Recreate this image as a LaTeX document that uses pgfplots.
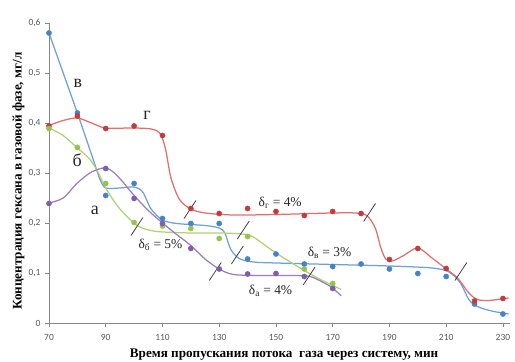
\documentclass[border=0pt]{standalone}
\usepackage{pgfplots}
\pgfplotsset{compat=1.18}
\usepackage{fontspec}
\setmainfont{Liberation Serif}
\newfontfamily\carlito{Carlito}
\definecolor{cblue}{RGB}{70,130,200}
\definecolor{cbluel}{RGB}{110,160,220}
\definecolor{cred}{RGB}{195,60,60}
\definecolor{credl}{RGB}{225,110,110}
\definecolor{cgreen}{RGB}{150,195,80}
\definecolor{cgreenl}{RGB}{175,210,115}
\definecolor{cpurp}{RGB}{128,95,170}
\definecolor{cpurpl}{RGB}{155,125,195}
\definecolor{axgray}{RGB}{134,134,134}
\definecolor{tickgray}{RGB}{89,89,89}
\begin{document}
\begin{tikzpicture}
\begin{axis}[
  name=ax,
  scale only axis,
  width=461bp, height=300bp,
  xmin=70, xmax=232.5, ymin=0, ymax=0.6,
  clip=false,
  axis x line*=bottom, axis y line*=left,
  axis line style={axgray, line width=0.8bp},
  xtick={70,90,...,230},
  ytick={0,0.1,0.2,0.3,0.4,0.5,0.6},
  major tick length=4bp,
  tick style={axgray, line width=0.8bp},
  tick align=outside,
  /pgf/number format/assume math mode=true,
  /pgf/number format/use comma,
  /pgf/number format/fixed,
  /pgf/number format/precision=1,
  ticklabel style={font=\carlito\fontsize{9.5}{11}\selectfont, text=tickgray},
  xticklabel style={yshift=-4bp},
  yticklabel style={xshift=-1bp},
  xlabel={Время пропускания потока\ \ газа через систему, мин},
  ylabel={Концентрация гексана в газовой фазе, мг/л},
  label style={font=\bfseries\fontsize{13.2}{15}\selectfont},
  x label style={at={(axis description cs:0.51,-0.107)}, anchor=center},
  y label style={at={(axis description cs:-0.066,0.473)}, anchor=center},
]
% smoothed trend curves
\addplot[cbluel, line width=1.25bp, smooth, tension=0.5] coordinates {
(70,0.58)(80,0.42)(86,0.32)(88,0.287)(90,0.27)(95,0.27)(100,0.272)(103,0.262)(106,0.228)(110,0.206)(115,0.199)(125,0.195)(130,0.19)(132,0.18)(134,0.148)(137,0.129)(142,0.122)(150,0.12)(170,0.117)(190,0.114)(205,0.11)(211,0.102)(215,0.08)(218,0.047)(221,0.033)(226,0.024)(232,0.018)};
\addplot[credl, line width=1.25bp, smooth, tension=0.5] coordinates {
(70,0.395)(75,0.405)(80,0.41)(85,0.4)(90,0.39)(100,0.39)(106,0.388)(109,0.38)(111,0.35)(113,0.29)(116,0.247)(120,0.228)(125,0.22)(135,0.216)(150,0.217)(170,0.22)(178,0.22)(182,0.215)(185,0.19)(187,0.15)(188.7,0.128)(191,0.124)(195,0.135)(200,0.15)(205,0.13)(210,0.108)(214,0.09)(218,0.06)(221,0.047)(225,0.045)(232,0.05)};
\addplot[cgreenl, line width=1.25bp, smooth, tension=0.5] coordinates {
(70,0.39)(75,0.375)(80,0.35)(84,0.33)(87,0.305)(90,0.27)(94,0.235)(98,0.21)(102,0.192)(108,0.183)(120,0.18)(130,0.18)(138,0.178)(142,0.172)(150,0.14)(160,0.105)(166,0.086)(173,0.067)};
\addplot[cpurpl, line width=1.25bp, smooth, tension=0.5] coordinates {
(70,0.24)(75,0.25)(80,0.28)(85,0.302)(90,0.31)(94,0.295)(100,0.255)(105,0.225)(110,0.2)(115,0.177)(120,0.155)(125,0.128)(130,0.108)(135,0.097)(145,0.095)(155,0.095)(162,0.093)(167,0.08)(170,0.07)(173,0.054)};
% data points
\addplot[only marks, mark=*, mark size=2.6bp, cblue] coordinates {
(70,0.58)(80,0.42)(90,0.255)(100,0.279)(110,0.209)(120,0.199)(130,0.199)(140,0.128)(150,0.138)(160,0.118)(170,0.113)(180,0.118)(190,0.108)(200,0.099)(210,0.093)(220,0.038)(230,0.018)};
\addplot[only marks, mark=*, mark size=2.6bp, cred] coordinates {
(70,0.394)(80,0.414)(90,0.389)(100,0.394)(110,0.375)(120,0.229)(130,0.219)(140,0.229)(150,0.223)(160,0.215)(170,0.223)(180,0.219)(190,0.127)(200,0.149)(210,0.109)(220,0.044)(230,0.049)};
\addplot[only marks, mark=*, mark size=2.6bp, cgreen] coordinates {
(70,0.389)(80,0.351)(90,0.279)(100,0.201)(110,0.194)(120,0.189)(130,0.169)(140,0.173)(160,0.108)(170,0.079)};
\addplot[only marks, mark=*, mark size=2.6bp, cpurp] coordinates {
(70,0.239)(90,0.309)(100,0.249)(110,0.199)(120,0.149)(130,0.108)(140,0.098)(150,0.099)(160,0.093)(170,0.069)};
% slash marks
\addplot[black!75, line width=0.8bp] coordinates {(98.9,0.175)(103.1,0.211)};
\addplot[black!75, line width=0.8bp] coordinates {(117.6,0.209)(121.8,0.245)};
\addplot[black!75, line width=0.8bp] coordinates {(136.4,0.168)(140.6,0.204)};
\addplot[black!75, line width=0.8bp] coordinates {(134.3,0.118)(138.5,0.154)};
\addplot[black!75, line width=0.8bp] coordinates {(126.5,0.085)(130.7,0.121)};
\addplot[black!75, line width=0.8bp] coordinates {(180.9,0.203)(185.1,0.239)};
\addplot[black!75, line width=0.8bp] coordinates {(159.6,0.076)(163.8,0.112)};
\addplot[black!75, line width=0.8bp] coordinates {(213.1,0.085)(217.3,0.121)};
% curve letters
\node[font=\fontsize{18}{20}\selectfont, text=black!85] at (axis cs:80.2,0.48) {в};
\node[font=\fontsize{18}{20}\selectfont, text=black!85] at (axis cs:104.6,0.415) {г};
\node[font=\fontsize{18}{20}\selectfont, text=black!85] at (axis cs:79.9,0.326) {б};
\node[font=\fontsize{18}{20}\selectfont, text=black!85] at (axis cs:86.2,0.225) {а};
% deviation labels
\node[font=\fontsize{13.5}{15}\selectfont, text=black!85] at (axis cs:109.3,0.156) {δ\textsubscript{б} = 5\%};
\node[font=\fontsize{13.5}{15}\selectfont, text=black!85] at (axis cs:151.5,0.240) {δ\textsubscript{г} = 4\%};
\node[font=\fontsize{13.5}{15}\selectfont, text=black!85] at (axis cs:168.9,0.140) {δ\textsubscript{в} = 3\%};
\node[font=\fontsize{13.5}{15}\selectfont, text=black!85] at (axis cs:148.1,0.065) {δ\textsubscript{а} = 4\%};
\end{axis}
\pgfresetboundingbox
\path[use as bounding box] ([shift={(-49bp,-39bp)}]ax.south west) rectangle ([shift={(5bp,23bp)}]ax.north east);
\end{tikzpicture}
\end{document}
